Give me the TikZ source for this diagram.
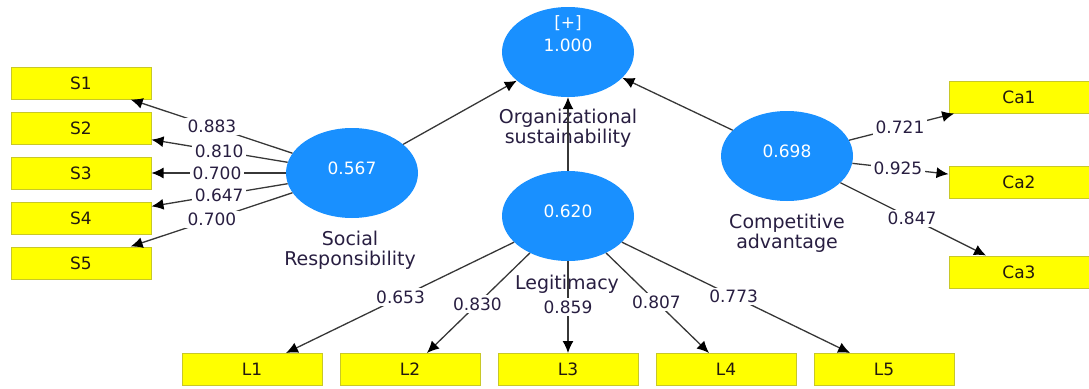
\documentclass[tikz,border=0pt]{standalone}
\usepackage{fontspec}
\setmainfont{DejaVu Sans}
\usetikzlibrary{shapes.geometric,arrows.meta,calc}
\definecolor{lvblue}{RGB}{25,144,255}
\definecolor{indyel}{RGB}{255,255,0}
\definecolor{indborder}{RGB}{200,200,40}
\definecolor{boxtext}{RGB}{35,25,15}
\definecolor{labtext}{RGB}{40,30,65}
\definecolor{linegray}{RGB}{55,55,55}
\begin{document}
\begin{tikzpicture}[x=1pt,y=-1pt,
  lv/.style={ellipse, fill=lvblue, draw=none, minimum width=132pt, minimum height=90pt, inner sep=0pt},
  lvtext/.style={text=white, font=\fontsize{17}{23}\selectfont, align=center},
  ind/.style={rectangle, fill=indyel, draw=indborder, line width=1pt, minimum width=140pt, minimum height=32pt, inner sep=0pt, font=\fontsize{17}{20}\selectfont, text=boxtext},
  conn/.style={draw=linegray, line width=1.3pt, -{Latex[length=12pt,width=11pt,black]}},
  coef/.style={fill=white, inner sep=2.5pt, font=\fontsize{17}{20}\selectfont, text=labtext},
  lvname/.style={align=center, font=\fontsize{19}{20}\selectfont, text=labtext}]
\useasboundingbox (0,0) rectangle (1089,388);

% latent variables
\node[lv, label={[lvtext, yshift=18.5pt]center:{[+]\\1.000}}] (org) at (568,52) {};
\node[lv, label={[lvtext, yshift=5pt]center:0.567}] (soc) at (352,173) {};
\node[lv, label={[lvtext, yshift=5pt]center:0.620}] (leg) at (568,216) {};
\node[lv, label={[lvtext, yshift=5pt]center:0.698}] (comp) at (787,156) {};

% indicators
\node[ind] (s1) at (81,83) {S1};
\node[ind] (s2) at (81,128) {S2};
\node[ind] (s3) at (81,173) {S3};
\node[ind] (s4) at (81,218) {S4};
\node[ind] (s5) at (81,263) {S5};
\node[ind] (ca1) at (1019,97) {Ca1};
\node[ind] (ca2) at (1019,182) {Ca2};
\node[ind] (ca3) at (1019,272) {Ca3};
\node[ind] (l1) at (252,369.5) {L1};
\node[ind] (l2) at (410,369.5) {L2};
\node[ind] (l3) at (568,369.5) {L3};
\node[ind] (l4) at (726,369.5) {L4};
\node[ind] (l5) at (884,369.5) {L5};

% names
\node[lvname] (orgname) at (568,128) {Organizational\\sustainability};
\node[lvname] (socname) at (350,250) {Social\\Responsibility};
\node[lvname] (compname) at (787,233.5) {Competitive\\advantage};
\node[lvname] (legname) at (567,284) {Legitimacy};

% structural paths
\draw[conn] (soc) -- (org);
\draw[conn] (leg) -- (org);
\draw[conn] (comp) -- (org);

% outer loadings
\foreach \t in {s1,s2,s3,s4,s5} \draw[conn] (soc) -- (\t);
\foreach \t in {ca1,ca2,ca3} \draw[conn] (comp) -- (\t);
\foreach \t in {l1,l2,l3,l4,l5} \draw[conn] (leg) -- (\t);

% coefficient labels
\node[coef] (cs1) at ($(soc)!0.517!(s1)$) {0.883};
\node[coef] (cs2) at ($(soc)!0.49!(s2)$) {0.810};
\node[coef] (cs3) at ($(soc)!0.498!(s3)$) {0.700};
\node[coef] (cs4) at ($(soc)!0.49!(s4)$) {0.647};
\node[coef] (cs5) at ($(soc)!0.517!(s5)$) {0.700};
\node[coef] (cc1) at ($(comp)!0.487!(ca1)$) {0.721};
\node[coef] (cc2) at ($(comp)!0.478!(ca2)$) {0.925};
\node[coef] (cc3) at ($(comp)!0.539!(ca3)$) {0.847};
\node[coef] (cl1) at ($(leg)!0.53!(l1)$) {0.653};
\node[coef] (cl2) at ($(leg)!0.573!(l2)$) {0.830};
\node[coef] (cl3) at ($(leg)!0.593!(l3)$) {0.859};
\node[coef] (cl4) at ($(leg)!0.56!(l4)$) {0.807};
\node[coef] (cl5) at ($(leg)!0.524!(l5)$) {0.773};
\end{tikzpicture}
\end{document}
